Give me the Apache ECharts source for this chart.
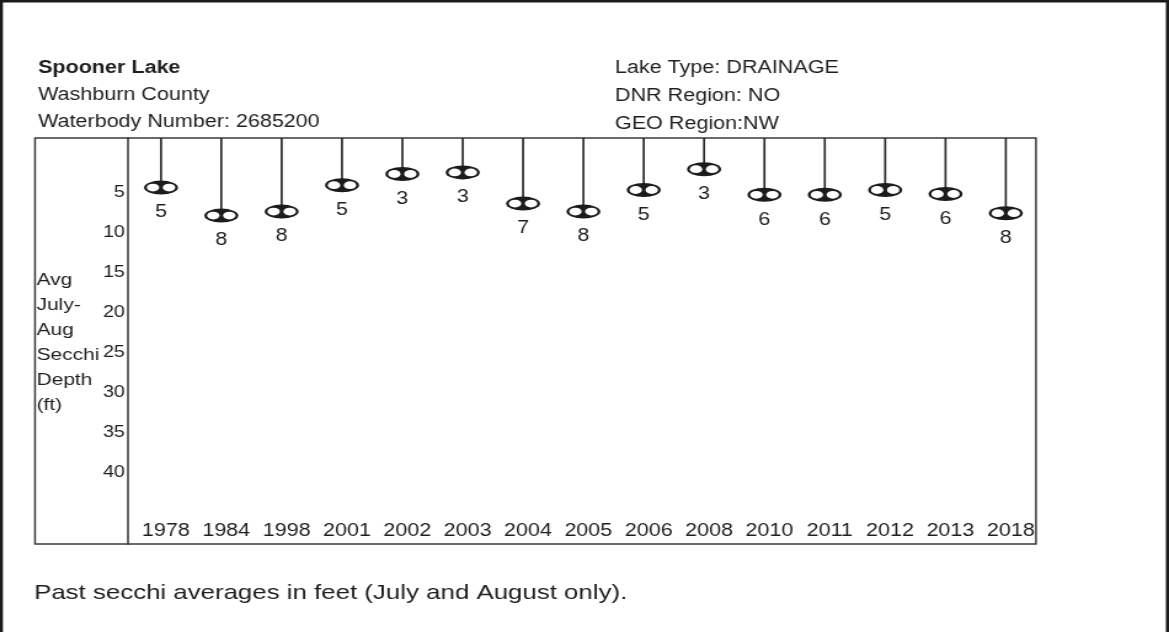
<!DOCTYPE html>
<html>
<head>
<meta charset="utf-8">
<script src="https://cdn.jsdelivr.net/npm/echarts@6/dist/echarts.min.js"></script>
<style>
  html, body { margin: 0; padding: 0; background: #fff; overflow: hidden; }
  #chart { height: 632px; transform-origin: 0 0; }
</style>
</head>
<body>
<div id="chart"></div>
<script>
// survey years and avg July-Aug secchi depth (ft)
const years = ['1978', '1984', '1998', '2001', '2002', '2003', '2004', '2005', '2006', '2008', '2010', '2011', '2012', '2013', '2018']
const secchiFt = [4.9, 8.4, 7.9, 4.6, 3.2, 3.0, 6.9, 7.9, 5.2, 2.6, 5.8, 5.8, 5.2, 5.7, 8.1]
const depthTicks = [5, 10, 15, 20, 25, 30, 35, 40]
const headerLeft = ['Spooner Lake', 'Washburn County', 'Waterbody Number: 2685200']
const headerRight = ['Lake Type: DRAINAGE', 'DNR Region: NO', 'GEO Region:NW']
const yName = 'Avg\nJuly-\nAug\nSecchi\nDepth\n(ft)'
const caption = 'Past secchi averages in feet (July and August only).'

const Y_MIN = -1.3
const Y_MAX = 49.45

// the scanned sheet is stretched sideways, so draw narrow and scale up
const W = 950
const dom = document.getElementById('chart')
dom.style.width = W + 'px'
dom.style.transform = 'scaleX(' + (1169 / W) + ')'
const cx = x => x * W / 1169

const FONT = '"Liberation Sans", Arial, sans-serif'
const INK = '#1e1e1e'

function ellipse (x, y, rx, ry) {
  return 'M' + (x - rx) + ' ' + y +
    ' A' + rx + ' ' + ry + ' 0 1 0 ' + (x + rx) + ' ' + y +
    ' A' + rx + ' ' + ry + ' 0 1 0 ' + (x - rx) + ' ' + y + ' Z'
}

const chart = echarts.init(dom, null, { renderer: 'canvas' })

const option = {
  backgroundColor: '#fff',
  animation: false,
  title: [
    {
      left: cx(38), top: 55, padding: 0, itemGap: 0,
      text: headerLeft[0],
      subtext: headerLeft.slice(1).join('\n'),
      textStyle: { fontFamily: FONT, fontSize: 17.5, fontWeight: 'bold', lineHeight: 27, color: INK },
      subtextStyle: { fontFamily: FONT, fontSize: 17.5, lineHeight: 27, color: INK }
    },
    {
      left: cx(615), top: 54.5, padding: 0, itemGap: 0,
      text: headerRight[0],
      subtext: headerRight.slice(1).join('\n'),
      textStyle: { fontFamily: FONT, fontSize: 17.5, fontWeight: 'normal', lineHeight: 28, color: INK },
      subtextStyle: { fontFamily: FONT, fontSize: 17.5, lineHeight: 28, color: INK }
    }
  ],
  grid: {
    left: cx(130.8),
    right: W - cx(1036),
    top: 138,
    bottom: 632 - 544,
    containLabel: false
  },
  xAxis: {
    type: 'category',
    data: years,
    boundaryGap: true,
    axisLine: { show: false },
    axisTick: { show: false },
    splitLine: { show: false },
    axisLabel: {
      interval: 0,
      hideOverlap: false,
      inside: true,
      margin: 13,
      verticalAlign: 'middle',
      padding: [0, 0, 0, 8],
      fontFamily: FONT,
      fontSize: 17.5,
      color: INK
    }
  },
  yAxis: {
    type: 'value',
    inverse: true,
    min: Y_MIN,
    max: Y_MAX,
    offset: cx(2.8),
    axisLine: { show: true, lineStyle: { color: '#333', width: 1.5 } },
    axisTick: { show: false },
    splitLine: { show: false },
    axisLabel: {
      customValues: depthTicks,
      margin: 2.5,
      verticalAlign: 'top',
      lineHeight: 8,
      fontFamily: FONT,
      fontSize: 16,
      color: INK
    }
  },
  graphic: [
    {
      type: 'polyline',
      silent: true,
      shape: { points: [[cx(1.3), 632], [cx(1.3), 1.3], [cx(1167.5), 1.3], [cx(1167.5), 632]] },
      style: { stroke: '#1a1a1a', lineWidth: 2.6, fill: null }
    },
    {
      type: 'rect',
      silent: true,
      shape: { x: cx(35), y: 138, width: cx(1036) - cx(35), height: 406 },
      style: { stroke: '#3a3a3a', lineWidth: 1.5, fill: null }
    },
    {
      type: 'text',
      x: cx(36.5),
      y: 267.5,
      style: { text: yName, fontFamily: FONT, fontSize: 17, lineHeight: 25, fill: INK, align: 'left', verticalAlign: 'top' }
    },
    {
      type: 'text',
      x: cx(34),
      y: 593,
      style: { text: caption, fontFamily: FONT, fontSize: 21, fill: INK, align: 'left', verticalAlign: 'middle' }
    }
  ],
  series: [
    {
      type: 'custom',
      data: secchiFt.map((v, i) => [i, v]),
      renderItem: function (params, api) {
        const p = api.coord([api.value(0), api.value(1)])
        const top = api.coord([api.value(0), Y_MIN])[1]
        const rx = cx(17)
        const ry = 7
        const hx = cx(8)
        return {
          type: 'group',
          children: [
            {
              type: 'line',
              shape: { x1: p[0], y1: top, x2: p[0], y2: p[1] },
              style: { stroke: '#2a2a2a', lineWidth: 1.7 }
            },
            {
              type: 'path',
              shape: { pathData: ellipse(p[0], p[1], rx, ry) },
              style: { fill: '#1c1c1c' }
            },
            {
              type: 'path',
              shape: { pathData: ellipse(p[0] - hx, p[1], cx(6.2), 3.9) },
              style: { fill: '#fff' }
            },
            {
              type: 'path',
              shape: { pathData: ellipse(p[0] + hx, p[1], cx(6.2), 3.9) },
              style: { fill: '#fff' }
            },
            {
              type: 'text',
              x: p[0],
              y: p[1] + 25,
              style: {
                text: String(Math.round(api.value(1))),
                fontFamily: FONT,
                fontSize: 17.5,
                fill: INK,
                align: 'center',
                verticalAlign: 'middle'
              }
            }
          ]
        }
      }
    }
  ]
}

chart.setOption(option)
</script>
</body>
</html>
